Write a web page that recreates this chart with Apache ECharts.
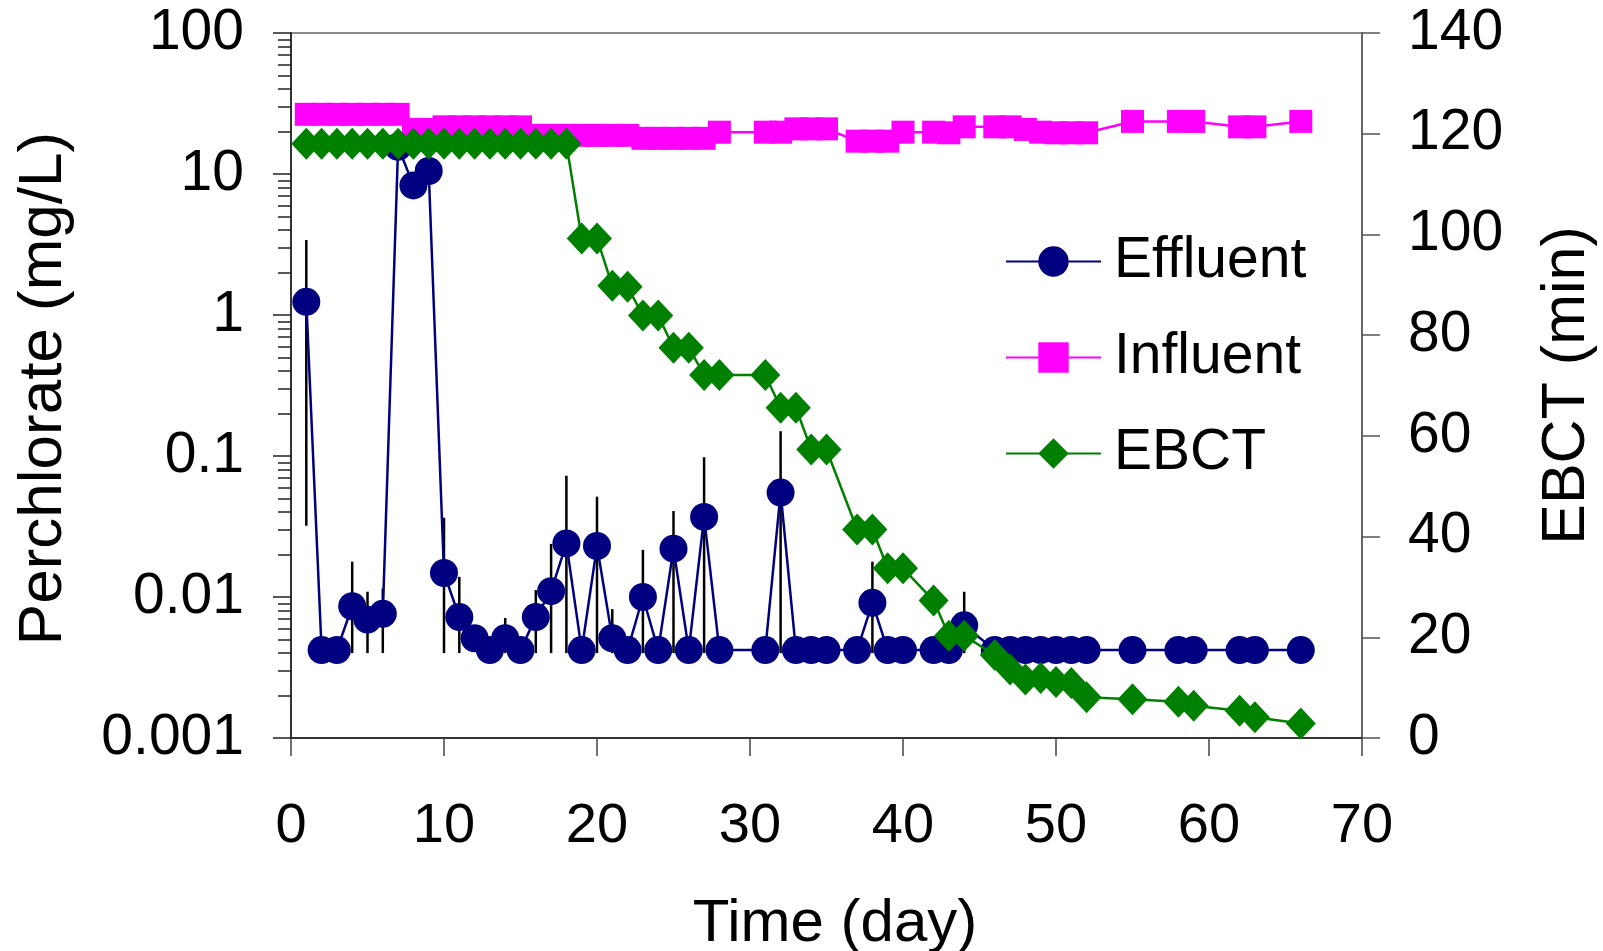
<!DOCTYPE html>
<html><head><meta charset="utf-8">
<script src="https://cdn.jsdelivr.net/npm/echarts@6/dist/echarts.min.js"></script>
<style>html,body{margin:0;padding:0;background:#fff}#c{width:1603px;height:951px}</style>
</head><body><div id="c"></div>
<script>
// ---- data ----
var days = [1,2,3,4,5,6,7,8,9,10,11,12,13,14,15,16,17,18,19,20,21,22,23,24,25,26,27,28,
            31,32,33,34,35,37,38,39,40,42,43,44,46,47,48,49,50,51,52,55,58,59,62,63,66];
var effluent = [1.24,0.0042,0.0042,0.0086,0.0069,0.0076,15.6,8.3,10.5,0.0148,0.0072,0.0051,0.0042,0.0051,0.0042,0.0072,0.011,0.024,0.0042,0.023,0.0051,0.0042,0.010,0.0042,0.022,0.0042,0.037,0.0042,
                0.0042,0.055,0.0042,0.0042,0.0042,0.0042,0.0091,0.0042,0.0042,0.0042,0.0042,0.0063,0.0042,0.0042,0.0042,0.0042,0.0042,0.0042,0.0042,0.0042,0.0042,0.0042,0.0042,0.0042,0.0042];
var influent = [26.5,26.5,26.5,26.5,26.5,26.5,26.5,20.7,20.7,21.6,21.6,21.6,21.6,21.6,21.6,18.8,18.8,18.8,18.8,18.8,18.8,18.8,17.9,17.9,17.9,17.9,17.9,19.8,
                19.8,19.8,20.9,20.9,20.9,17.1,17.1,17.1,19.8,19.8,19.6,21.6,21.6,21.6,20.7,19.8,19.6,19.6,19.6,23.6,23.6,23.6,21.6,21.6,23.6];
var ebct = [118,118,118,118,118,118,118,118,118,118,118,118,118,118,118,118,118,118,99.2,99.2,89.8,89.6,83.9,83.9,77.5,77.5,72.1,72.1,
            72.1,65.6,65.6,57.3,57.3,41.4,41.4,33.7,33.7,27.3,20.3,20.3,16.5,13.6,11.6,11.9,11.1,10.9,8.1,7.7,7.2,6.4,5.4,4.1,2.9];
var errDays = [1,4,5,6,10,11,14,16,17,18,20,21,23,25,27,32,38,44];
var errLow  = [0.032,0.004,0.004,0.004,0.004,0.004,0.004,0.004,0.004,0.004,0.004,0.004,0.004,0.004,0.004,0.004,0.004,0.004];
var errHigh = [3.4,0.0178,0.0109,0.0115,0.0365,0.0139,0.0071,0.0112,0.0238,0.0725,0.0515,0.0082,0.0216,0.0407,0.098,0.150,0.0178,0.0109];
var leftTickLabels = ['0.001','0.01','0.1','1','10','100'];
var minorTickValues = [];
[0.001,0.01,0.1,1,10].forEach(function(d){ for (var k=2;k<=9;k++) minorTickValues.push(+(d*k).toPrecision(3)); });

var FONT = "'Liberation Sans', Arial, sans-serif";
function pairs(xs, ys){ return xs.map(function(x,i){ return [x, ys[i]]; }); }

var chart = echarts.init(document.getElementById('c'), null, {renderer:'canvas'});
chart.setOption({
  animation: false,
  backgroundColor: '#fff',
  textStyle: {fontFamily: FONT},
  grid: {left: 291, top: 33, width: 1071, height: 705, containLabel: false, outerBoundsMode: 'none',
         show: true, borderColor: '#8a8a8a', borderWidth: 2, backgroundColor: 'transparent'},
  legend: {
    data: ['Effluent','Influent','EBCT'],
    orient: 'vertical', left: 1000, top: 228, itemWidth: 95, itemHeight: 38, itemGap: 39,
    textStyle: {fontSize: 57, color: '#000', fontFamily: FONT, padding: [0,0,0,8]},
    selectedMode: false
  },
  xAxis: {
    type: 'value', min: 0, max: 70, interval: 10,
    name: 'Time (day)', nameLocation: 'middle', nameGap: 156,
    nameTextStyle: {fontSize: 60, color: '#000', fontFamily: FONT, padding: [0,0,0,17]},
    axisLine: {show: true, lineStyle: {color: '#333', width: 2}},
    axisTick: {show: true, inside: false, length: 18, lineStyle: {color: '#444', width: 1.5}},
    axisLabel: {fontSize: 56, color: '#000', margin: 61, fontFamily: FONT},
    splitLine: {show: false}
  },
  yAxis: [{
    type: 'log', logBase: 10, min: 0.001, max: 100, position: 'left',
    name: 'Perchlorate (mg/L)', nameLocation: 'middle', nameGap: 216, nameRotate: 90,
    nameTextStyle: {fontSize: 62, color: '#000', fontFamily: FONT, padding: [0,6,0,0]},
    axisLine: {show: true, lineStyle: {color: '#333', width: 2}},
    axisTick: {show: true, inside: false, length: 18, lineStyle: {color: '#222', width: 1.5}},
    axisLabel: {fontSize: 57, color: '#000', margin: 47, fontFamily: FONT,
                formatter: function(v, i){ return leftTickLabels[i]; }},
    splitLine: {show: false}, minorTick: {show: false}
  }, {
    type: 'value', min: 0, max: 140, interval: 20, position: 'right',
    name: 'EBCT (min)', nameLocation: 'middle', nameGap: 175, nameRotate: 90,
    nameTextStyle: {fontSize: 61, color: '#000', fontFamily: FONT},
    axisLine: {show: true, lineStyle: {color: '#666', width: 2}},
    axisTick: {show: true, inside: false, length: 18, lineStyle: {color: '#555', width: 1.5}},
    axisLabel: {fontSize: 57, color: '#000', margin: 46, fontFamily: FONT},
    splitLine: {show: false}
  }, {
    type: 'log', logBase: 10, min: 0.001, max: 100, position: 'left',
    axisLine: {show: false},
    axisTick: {show: true, inside: false, length: 13, customValues: minorTickValues, lineStyle: {color: '#222', width: 1.5}},
    axisLabel: {show: false},
    splitLine: {show: false}
  }],
  series: [{
    name: 'err', type: 'custom', xAxisIndex: 0, yAxisIndex: 0, z: 1, clip: false,
    encode: {x: 0, y: [1, 2]},
    data: errDays.map(function(d,i){ return [d, errLow[i], errHigh[i]]; }),
    renderItem: function(params, api){
      var p1 = api.coord([api.value(0), api.value(1)]);
      var p2 = api.coord([api.value(0), api.value(2)]);
      return {type: 'line', shape: {x1: p1[0], y1: p1[1], x2: p2[0], y2: p2[1]},
              style: {stroke: '#000', lineWidth: 2.5}};
    }
  }, {
    name: 'Effluent', type: 'line', xAxisIndex: 0, yAxisIndex: 0, z: 2,
    data: pairs(days, effluent), symbol: 'circle', symbolSize: 28,
    itemStyle: {color: '#000080'}, lineStyle: {color: '#000080', width: 2.5}
  }, {
    name: 'Influent', type: 'line', xAxisIndex: 0, yAxisIndex: 0, z: 3,
    data: pairs(days, influent), symbol: 'rect', symbolSize: 23,
    itemStyle: {color: '#ff00ff'}, lineStyle: {color: '#ff00ff', width: 2.5}
  }, {
    name: 'EBCT', type: 'line', xAxisIndex: 0, yAxisIndex: 1, z: 4,
    data: pairs(days, ebct), symbol: 'diamond', symbolSize: [30, 32],
    itemStyle: {color: '#008000'}, lineStyle: {color: '#008000', width: 2.5}
  }]
});
</script></body></html>
